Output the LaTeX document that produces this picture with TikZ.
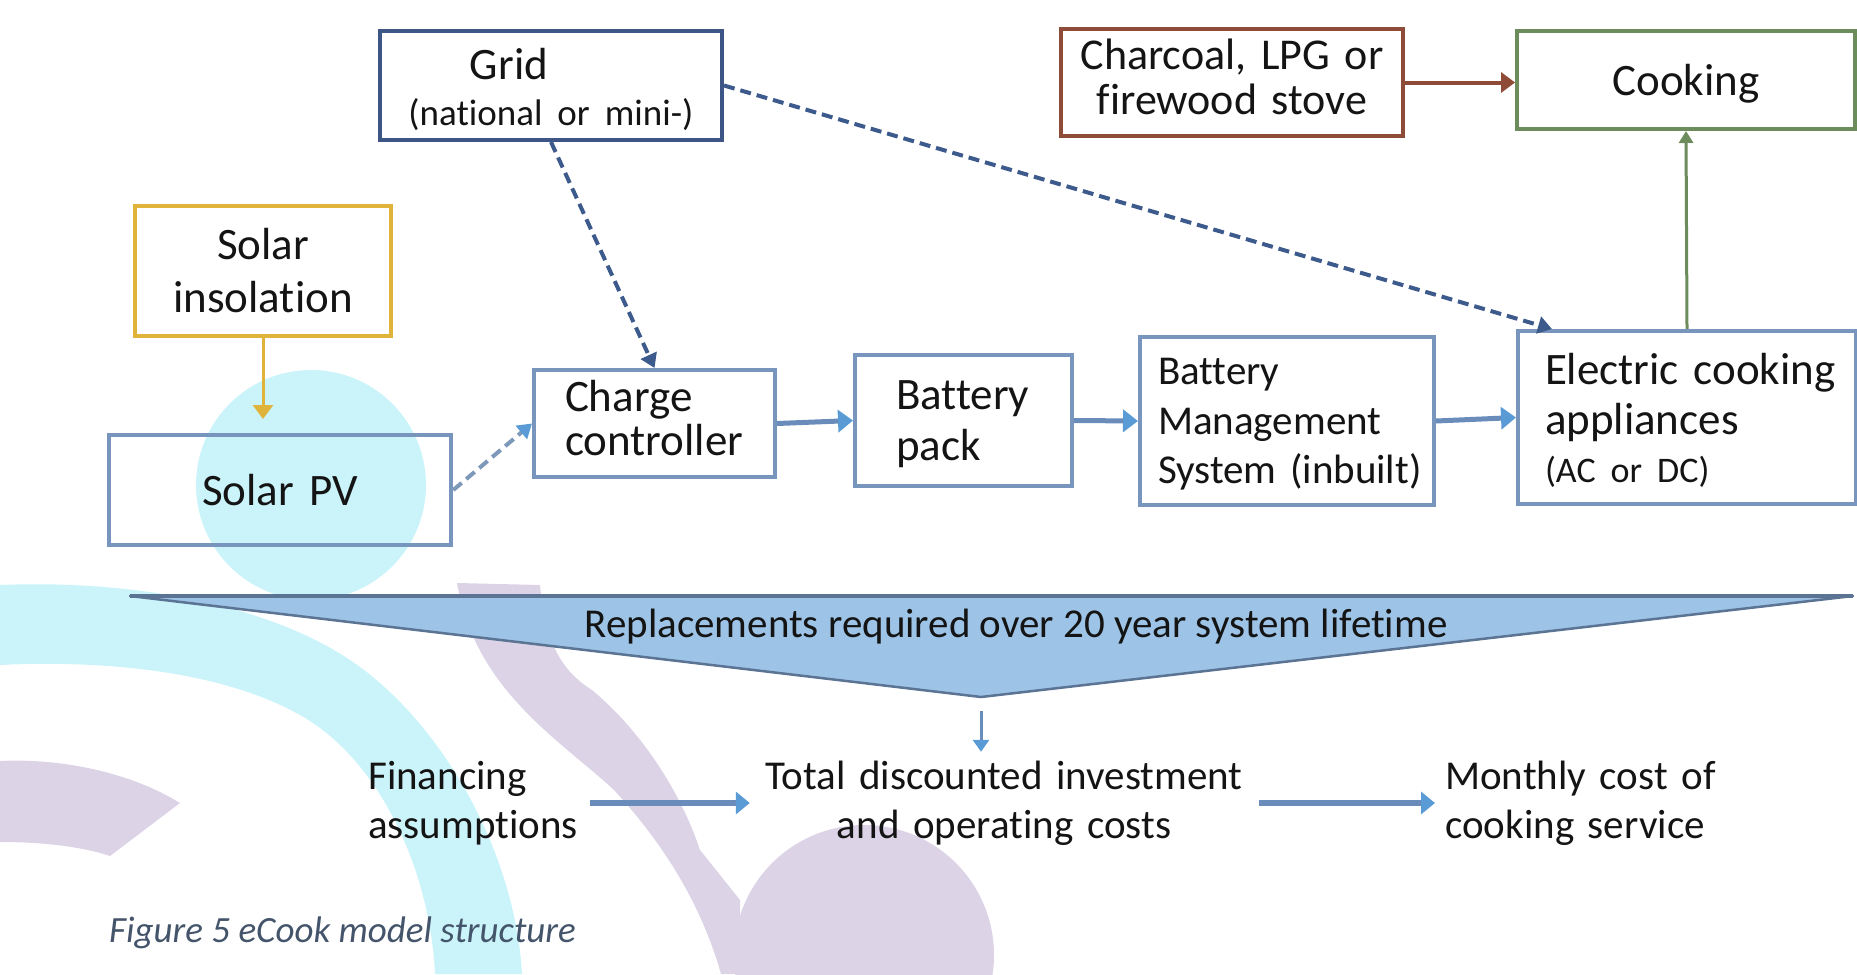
\documentclass[tikz,border=0pt]{standalone}
\usepackage{fontspec}
\setmainfont{Carlito}[Ligatures=NoCommon]
\usetikzlibrary{arrows.meta}
\definecolor{gridc}{HTML}{3E5685}
\definecolor{boxblue}{HTML}{7895BD}
\definecolor{goldc}{HTML}{E0B43A}
\definecolor{brownc}{HTML}{8E4B37}
\definecolor{greenc}{HTML}{6D8C5B}
\definecolor{shaft}{HTML}{6A8CBB}
\definecolor{tipblue}{HTML}{5B9BD5}
\definecolor{dashdark}{HTML}{3D5A8C}
\definecolor{dashlight}{HTML}{7D98B8}
\definecolor{bannerfill}{HTML}{9DC3E6}
\definecolor{bannerline}{HTML}{5B7494}
\definecolor{wmcyan}{HTML}{CBF4FA}
\definecolor{wmlav}{HTML}{DCD4E6}
\definecolor{captionc}{HTML}{44546A}
\definecolor{txt}{HTML}{141414}
\newcommand{\fsz}[2]{\fontsize{#1}{#2}\selectfont}
\begin{document}
\begin{tikzpicture}[x=1pt,y=-1pt,
  box/.style={draw, line width=4pt, inner sep=0pt, text=txt, text height=0pt},
  plain/.style={inner sep=0pt, text=txt},
  flow/.style={line width=5pt, draw=shaft, -{Triangle[length=15pt,width=22pt,color=tipblue]}},
  fatflow/.style={line width=6pt, draw=shaft, -{Triangle[length=14pt,width=22pt,color=tipblue]}},
  thinflow/.style={line width=3pt, draw=shaft, -{Triangle[length=12pt,width=16pt,color=tipblue]}},
  dasharrow/.style={line width=4pt, draw=dashdark, dash pattern=on 11pt off 6pt, -{Triangle[length=14pt,width=17pt]}},
  dashlight/.style={line width=4pt, draw=dashlight, dash pattern=on 11pt off 6pt, -{Triangle[length=14pt,width=17pt,color=tipblue]}},
  goldarrow/.style={line width=3pt, draw=goldc, -{Triangle[length=14pt,width=20pt]}},
  brownarrow/.style={line width=4pt, draw=brownc, -{Triangle[length=14pt,width=20pt]}},
  greenarrow/.style={line width=3pt, draw=greenc, -{Triangle[length=12pt,width=14pt]}}
]
\useasboundingbox (0,0) rectangle (1857,974);
% watermark
\begin{scope}
\clip (0,0) rectangle (1857,974);
\fill[wmcyan] (311,485) circle[radius=115pt];
\fill[wmcyan] (0,585) .. controls (120,580) and (260,600) .. (350,660) .. controls (440,720) and (515,850) .. (522,974) -- (435,974) .. controls (430,870) and (380,760) .. (300,715) .. controls (220,670) and (100,660) .. (0,665) -- cycle;
\fill[wmlav] (0,761) .. controls (60,758) and (130,772) .. (180,803) -- (110,856) .. controls (80,846) and (40,842) .. (0,842) -- cycle;
\fill[wmlav] (457,583) -- (540,585) .. controls (545,640) and (560,670) .. (592,690) .. controls (640,730) and (680,790) .. (700,850) -- (740,900) -- (740,974) -- (721,974) .. controls (700,900) and (660,840) .. (614,790) .. controls (560,740) and (475,690) .. (457,583) -- cycle;
\fill[wmlav] (864,955) circle[radius=130pt];
\end{scope}
% banner
\coordinate (bl) at (130,596);
\coordinate (br) at (1853,596);
\coordinate (bannertip) at (981,697);
\fill[bannerfill] (bl) -- (br) -- (bannertip) -- cycle;
\draw[bannerline, line width=2.5pt, line join=round] (bl) -- (br) -- (bannertip) -- cycle;
\draw[bannerline, line width=3.5pt] (bl) -- (br);
\node[plain, anchor=base, font=\fsz{41}{48}] (banner) at (1016,637) {Replacements required over 20 year system lifetime};
% boxes
\node[box, draw=gridc, minimum width=342pt, minimum height=109pt, text width=342pt, align=center, text depth=13pt, font=\fsz{45}{46}] (grid) at (551,85.5) {\hspace*{-84pt}Grid\\{\fsz{37}{46}(national or mini-)}};
\node[box, draw=goldc, minimum width=256pt, minimum height=130pt, text width=256pt, align=center, text depth=24pt, font=\fsz{45}{53}] (si) at (263,271) {Solar\\insolation};
\node[box, draw=boxblue, minimum width=342.5pt, minimum height=110pt, text width=342.5pt, align=center, text height=30pt, text depth=0pt, font=\fsz{45}{53}] (spv) at (280,490) {Solar PV};
\node[box, draw=boxblue, minimum width=241pt, minimum height=107pt, text width=179pt, align=left, text depth=23.6pt, font=\fsz{45}{43.5}] (cc) at (654.5,423.5) {Charge\\controller};
\node[box, draw=boxblue, minimum width=217pt, minimum height=131pt, text width=135pt, align=left, text depth=23pt, font=\fsz{45}{51}] (bp) at (963.5,420.5) {Battery\\pack};
\node[box, draw=boxblue, minimum width=294pt, minimum height=168pt, text width=258pt, align=left, text depth=73pt, font=\fsz{41}{49.5}] (bms) at (1287,421) {Battery\\Management\\\mbox{System (inbuilt)}};
\node[box, draw=boxblue, minimum width=338pt, minimum height=173pt, text width=284pt, align=left, text depth=66pt, font=\fsz{45}{50}] (ec) at (1687,417.5) {\mbox{Electric cooking}\\appliances\\[-2pt]{\fsz{36}{50}(AC or DC)}};
\node[box, draw=brownc, minimum width=342pt, minimum height=107pt, text width=342pt, align=center, text depth=25pt, font=\fsz{44}{44}] (charcoal) at (1232,82.5) {\mbox{Charcoal, LPG or}\\\mbox{firewood stove}};
\node[box, draw=greenc, minimum width=338pt, minimum height=98pt, text width=338pt, align=center, text height=30pt, text depth=0pt, font=\fsz{45}{50}] (cook) at (1686,80) {Cooking};
% bottom texts
\node[plain, anchor=base west, text width=215pt, align=left, text height=31pt, text depth=59pt, font=\fsz{41}{49}] (fin) at (368,789) {Financing\\assumptions};
\node[plain, anchor=base, text width=480pt, align=center, text height=31pt, text depth=59pt, font=\fsz{41}{49}] (tot) at (1004,789) {\mbox{Total discounted investment}\\\mbox{and operating costs}};
\node[plain, anchor=base west, text width=265pt, align=left, text height=31pt, text depth=59pt, font=\fsz{41}{49}] (mon) at (1445,789) {\mbox{Monthly cost of}\\\mbox{cooking service}};
\node[inner sep=0pt, anchor=base west, font=\fsz{37}{44}\itshape, text=captionc] (cap) at (109,942) {Figure 5 eCook model structure};
% connectors
\draw[goldarrow, shorten >=14pt] (si.south) -- (si.south |- spv.north);
\draw[dasharrow] (grid.south) -- (cc.north);
\draw[dasharrow] (grid.east) -- ([xshift=36pt]ec.north west);
\draw[dashlight] (spv.east) -- (cc.west);
\draw[flow] (cc.east) -- (bp.west);
\draw[flow] (bp.east) -- (bms.west);
\draw[flow] (bms.east) -- (ec.west);
\draw[brownarrow] (charcoal.east) -- (charcoal.east -| cook.west);
\draw[greenarrow] (ec.north) -- (cook.south);
\draw[thinflow, shorten <=14pt, shorten >=6pt] (bannertip) -- (bannertip |- tot.north);
\draw[fatflow, shorten <=7pt, shorten >=14pt] (fin.east) -- (tot.west);
\draw[fatflow, shorten <=15pt, shorten >=10pt] (tot.east) -- (mon.west);
\end{tikzpicture}
\end{document}
